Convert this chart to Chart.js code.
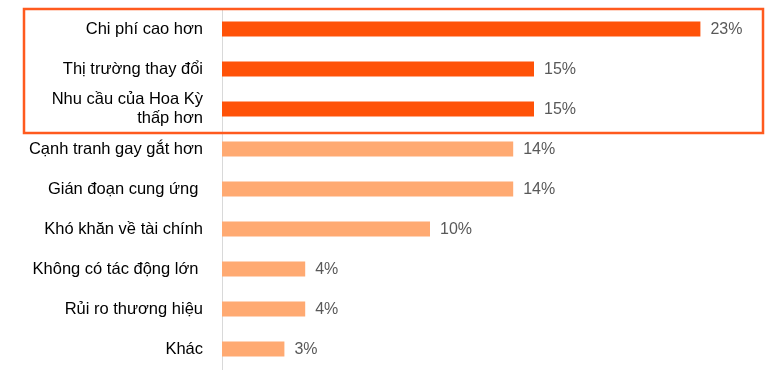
<!DOCTYPE html>
<html>
<head>
<meta charset="utf-8">
<script src="https://cdn.jsdelivr.net/npm/chart.js@4"></script>
<style>
  html, body { margin: 0; padding: 0; background: #fff; }
  #wrap { width: 782px; height: 379px; }
</style>
</head>
<body>
<div id="wrap"><canvas id="grafico" width="782" height="379"></canvas></div>
<script>
const categorias = [
  'Chi phí cao hơn',
  'Thị trường thay đổi',
  ['Nhu cầu của Hoa Kỳ', 'thấp hơn'],
  'Cạnh tranh gay gắt hơn',
  'Gián đoạn cung ứng ',
  'Khó khăn về tài chính',
  'Không có tác động lớn ',
  'Rủi ro thương hiệu',
  'Khác'
];
const valores = [23, 15, 15, 14, 14, 10, 4, 4, 3];
const destaque = [true, true, true, false, false, false, false, false, false];

const corForte = '#FF5208';
const corClara = '#FFAA72';

// rotulos de valor no fim de cada barra
const rotulosPlugin = {
  id: 'rotulos',
  afterDatasetsDraw(chart) {
    const ctx = chart.ctx;
    const meta = chart.getDatasetMeta(0);
    ctx.save();
    ctx.font = '16px "Liberation Sans", Arial, sans-serif';
    ctx.fillStyle = '#595959';
    ctx.textBaseline = 'middle';
    ctx.textAlign = 'left';
    meta.data.forEach((bar, i) => {
      ctx.fillText(valores[i] + '%', bar.x + 10, bar.y + 1);
    });
    ctx.restore();
  }
};

// moldura em volta das tres primeiras categorias
const molduraPlugin = {
  id: 'moldura',
  afterDraw(chart) {
    const y = chart.scales.y;
    const ctx = chart.ctx;
    const topo = y.getPixelForValue(0) - 20;
    const base = y.getPixelForValue(2) + 24;
    ctx.save();
    ctx.strokeStyle = '#FF5A1E';
    ctx.lineWidth = 2.5;
    ctx.strokeRect(24, topo, 739, base - topo);
    ctx.restore();
  }
};

new Chart(document.getElementById('grafico'), {
  type: 'bar',
  data: {
    labels: categorias,
    datasets: [{
      data: valores,
      backgroundColor: destaque.map(d => d ? corForte : corClara),
      barPercentage: 0.375,
      categoryPercentage: 1
    }]
  },
  options: {
    indexAxis: 'y',
    responsive: false,
    animation: false,
    layout: { padding: { top: 9, bottom: 10, left: 0, right: 40 } },
    plugins: { legend: { display: false }, tooltip: { enabled: false } },
    scales: {
      x: {
        display: false,
        min: 0,
        max: 25
      },
      y: {
        afterFit(scale) {
          scale.width = 222;
          scale.paddingTop = 0;
          scale.paddingBottom = 0;
        },
        grid: { display: false, drawTicks: false },
        border: { display: true, color: '#D9D9D9', width: 1 },
        ticks: {
          autoSkip: false,
          padding: 19,
          color: '#000',
          font: { family: '"Liberation Sans", Arial, sans-serif', size: 16.5 }
        }
      }
    }
  },
  plugins: [rotulosPlugin, molduraPlugin]
});
</script>
</body>
</html>
